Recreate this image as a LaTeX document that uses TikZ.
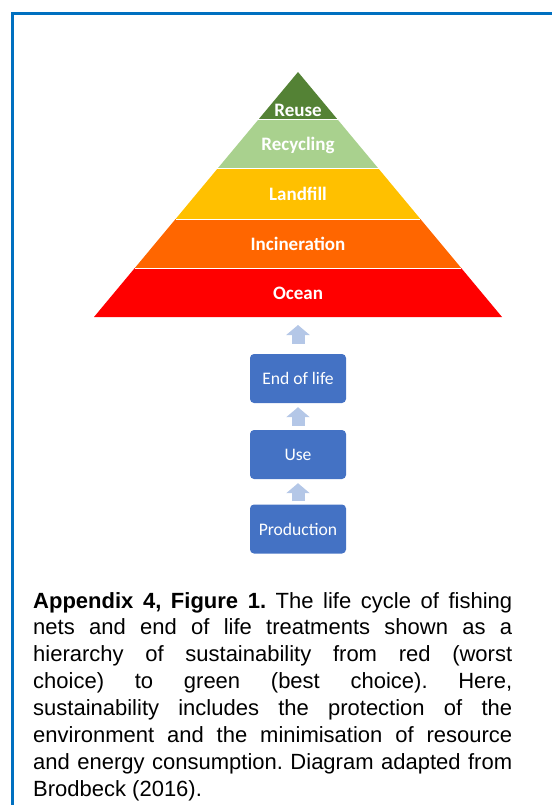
\documentclass[tikz,border=0pt]{standalone}
\usepackage{fontspec}
\setmainfont{Liberation Sans}
\newfontfamily\carlito{Carlito}
\usetikzlibrary{arrows.meta}
\definecolor{borderblue}{HTML}{0070C0}
\definecolor{reusegreen}{HTML}{548235}
\definecolor{recyclegreen}{HTML}{A9D18E}
\definecolor{landfillyellow}{HTML}{FFC000}
\definecolor{incinorange}{HTML}{FF6600}
\definecolor{oceanred}{HTML}{FF0000}
\definecolor{boxblue}{HTML}{4472C4}
\definecolor{arrowblue}{HTML}{B4C7E7}
\tikzset{
  pyrlabel/.style={text=white, font=\carlito\bfseries\fontsize{19}{22}\selectfont, inner sep=0pt},
  lcbox/.style={fill=boxblue, rounded corners=4pt, minimum width=96pt, minimum height=49pt,
    text=white, font=\carlito\fontsize{17.6}{20}\selectfont, inner sep=0pt},
  blockarr/.style={draw=arrowblue, line width=13pt, -{Triangle[width=23pt,length=10pt]}},
  sep/.style={white, line width=1pt},
  frame/.style={draw=borderblue, line width=3pt}
}
\begin{document}
\begin{tikzpicture}[x=1pt,y=-1pt]
\useasboundingbox (0,0) rectangle (551,805);
\draw[frame] (12.5,815) -- (12.5,13.5) -- (565,13.5);
% pyramid layers
\fill[reusegreen] (298,72) -- (258,120) -- (338,120) -- cycle;
\fill[recyclegreen] (258,120) -- (217.2,169) -- (378.8,169) -- (338,120) -- cycle;
\fill[landfillyellow] (217.2,169) -- (175.6,219) -- (420.4,219) -- (378.8,169) -- cycle;
\fill[incinorange] (175.6,219) -- (134.8,268) -- (461.2,268) -- (420.4,219) -- cycle;
\fill[oceanred] (134.8,268) -- (94,317) -- (502,317) -- (461.2,268) -- cycle;
\draw[sep] (258,120) -- (338,120);
\draw[sep] (217.2,169) -- (378.8,169);
\draw[sep] (175.6,219) -- (420.4,219);
\draw[sep] (134.8,268) -- (461.2,268);
\node[pyrlabel] (reuse) at (298,110) {Reuse};
\node[pyrlabel] (recycling) at (298,145) {Recycling};
\node[pyrlabel] (landfill) at (298,194) {Landfill};
\node[pyrlabel] (incineration) at (298,243.5) {Incineration};
\node[pyrlabel] (ocean) at (298,293) {Ocean};
\coordinate (pyrbase) at (298,317);
% life cycle boxes
\node[lcbox] (eol) at (298,378.5) {End of life};
\node[lcbox] (use) at (298,454.5) {Use};
\node[lcbox] (prod) at (298,529) {Production};
\draw[blockarr] ([yshift=10pt]eol.north) -- ([yshift=-8pt]pyrbase);
\draw[blockarr] ([yshift=4pt]use.north) -- ([yshift=-4pt]eol.south);
\draw[blockarr] ([yshift=3pt]prod.north) -- ([yshift=-4pt]use.south);
% caption
\node[anchor=north west, inner sep=0pt, text width=479pt, align=justify,
  font=\fontsize{22}{26.85}\selectfont] (caption) at (33,592) {%
\frenchspacing\tolerance=10000\hyphenpenalty=10000\pretolerance=-1
\textbf{Appendix 4, Figure 1.} The life cycle of fishing\linebreak
nets and end of life treatments shown as a\linebreak
hierarchy of sustainability from red (worst\linebreak
choice) to green (best choice). Here,\linebreak
sustainability includes the protection of the\linebreak
environment and the minimisation of resource\linebreak
and energy consumption. Diagram adapted from\linebreak
Brodbeck (2016).};
\end{tikzpicture}
\end{document}
